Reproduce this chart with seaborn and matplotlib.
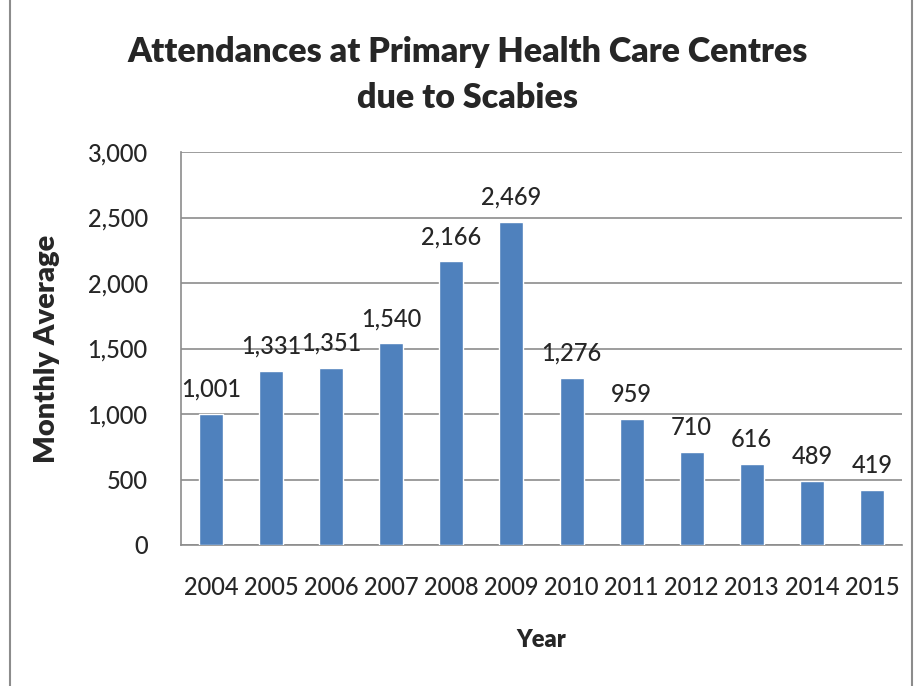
import matplotlib
matplotlib.use("Agg")
import matplotlib.pyplot as plt
import seaborn as sns
import pandas as pd
from matplotlib.patches import Rectangle

# Data
years = ["2004", "2005", "2006", "2007", "2008", "2009",
         "2010", "2011", "2012", "2013", "2014", "2015"]
monthly_avg = [1001, 1331, 1351, 1540, 2166, 2469, 1276, 959, 710, 616, 489, 419]

df = pd.DataFrame({"Year": years, "Monthly Average": monthly_avg})

sns.set_style("white")
plt.rcParams["font.family"] = ["Lato", "DejaVu Sans"]

fig = plt.figure(figsize=(9.21, 6.86), dpi=100)
ax = fig.add_axes([181 / 921, 1 - 545 / 686, (902 - 181) / 921, (545 - 152) / 686])

sns.barplot(data=df, x="Year", y="Monthly Average", color="#4F81BD",
            width=0.4, saturation=1, ax=ax, zorder=3)

ax.set_ylim(0, 3000)
ax.set_yticks(range(0, 3001, 500))
ax.set_yticklabels([f"{v:,}" for v in range(0, 3001, 500)])
ax.yaxis.grid(True, color="#8c8c8c", linewidth=1.2, zorder=0)
ax.tick_params(axis="both", length=0, labelsize=17, pad=24)
ax.tick_params(axis="x", pad=22)
for lbl in ax.get_xticklabels() + ax.get_yticklabels():
    lbl.set_fontweight("medium")

for s in ["top", "right"]:
    ax.spines[s].set_visible(False)
for s in ["left", "bottom"]:
    ax.spines[s].set_color("#8c8c8c")
    ax.spines[s].set_linewidth(1.2)

# value labels on top of the bars
for i, v in enumerate(monthly_avg):
    ax.text(i, v + 100, f"{v:,}", ha="center", va="bottom", fontsize=17,
            fontweight="medium")

ax.set_xlabel("Year", fontsize=17, fontweight="heavy", labelpad=22)
ax.set_ylabel("Monthly Average", fontsize=21, fontweight="heavy", labelpad=20)

fig.text(0.508, 1 - 75 / 686, "Attendances at Primary Health Care Centres\ndue to Scabies",
         ha="center", va="center", fontsize=24.5, fontweight="heavy", linespacing=1.5)

# outer chart frame
fig.patches.append(Rectangle((10 / 921, -0.01), (912 - 10) / 921, 1.02,
                             transform=fig.transFigure, fill=False,
                             edgecolor="#8c8c8c", linewidth=1.5))

fig.savefig("out.png", dpi=100)
